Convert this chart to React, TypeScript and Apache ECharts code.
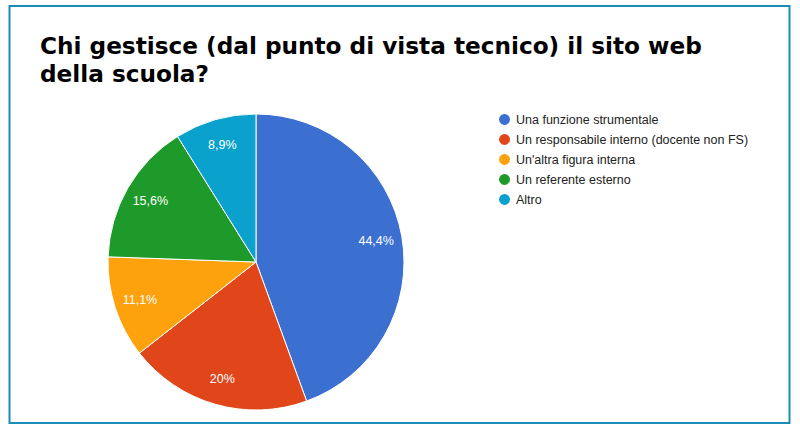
import React, { useEffect, useRef } from "react";
import * as echarts from "echarts";

const titleLines = ["Chi gestisce (dal punto di vista tecnico) il sito web", "della scuola?"];
const categories = [
  "Una funzione strumentale",
  "Un responsabile interno (docente non FS)",
  "Un'altra figura interna",
  "Un referente esterno",
  "Altro",
];
const counts = [20, 9, 5, 7, 4];
const percentLabels = ["44,4%", "20%", "11,1%", "15,6%", "8,9%"];
const colors = ["#3b6fd0", "#e0461a", "#fda20c", "#1e9a2a", "#0aa1cc"];

export default function App() {
  const ref = useRef<HTMLDivElement>(null);
  useEffect(() => {
    if (!ref.current) return;
    const chart = echarts.init(ref.current, null, { renderer: "svg" });
    const data = categories.map((name, i) => ({
      name,
      value: counts[i],
      itemStyle: { color: colors[i] },
    }));
    chart.setOption({
      animation: false,
      title: {
        text: titleLines.join("\n"),
        left: 40,
        top: 31,
        padding: 0,
        textStyle: {
          fontFamily: "DejaVu Sans",
          fontWeight: "bold",
          fontSize: 23.2,
          lineHeight: 28.5,
          color: "#000000",
        },
      },
      legend: {
        orient: "vertical",
        left: 492,
        top: 107,
        icon: "circle",
        itemWidth: 13,
        itemHeight: 13,
        itemGap: 5,
        data: categories,
        textStyle: { fontFamily: "Liberation Sans", fontSize: 12.5, color: "#222222" },
      },
      graphic: [
        {
          type: "rect",
          shape: { x: 9.5, y: 6, width: 780, height: 417 },
          style: { fill: "none", stroke: "#1b8db5", lineWidth: 2 },
          silent: true,
        },
      ],
      series: [
        {
          type: "pie",
          center: [256, 262],
          radius: [0, 148],
          startAngle: 90,
          clockwise: true,
          label: { show: false },
          labelLine: { show: false },
          itemStyle: { borderColor: "#ffffff", borderWidth: 1 },
          data,
        },
        {
          type: "pie",
          center: [256, 262],
          radius: [90, 148],
          startAngle: 90,
          clockwise: true,
          silent: true,
          labelLine: { show: false },
          itemStyle: { color: "rgba(0,0,0,0)" },
          label: {
            show: true,
            position: "inside",
            fontFamily: "Liberation Sans",
            fontSize: 12.5,
            color: "#ffffff",
            formatter: (p: any) => percentLabels[p.dataIndex],
          },
          data: categories.map((name, i) => ({
            name,
            value: counts[i],
            itemStyle: { color: "rgba(0,0,0,0)" },
          })),
        },
      ],
    });
    return () => chart.dispose();
  }, []);
  return (
    <div
      ref={ref}
      style={{ position: "fixed", left: 0, top: 0, width: 800, height: 439, background: "#ffffff" }}
    />
  );
}
